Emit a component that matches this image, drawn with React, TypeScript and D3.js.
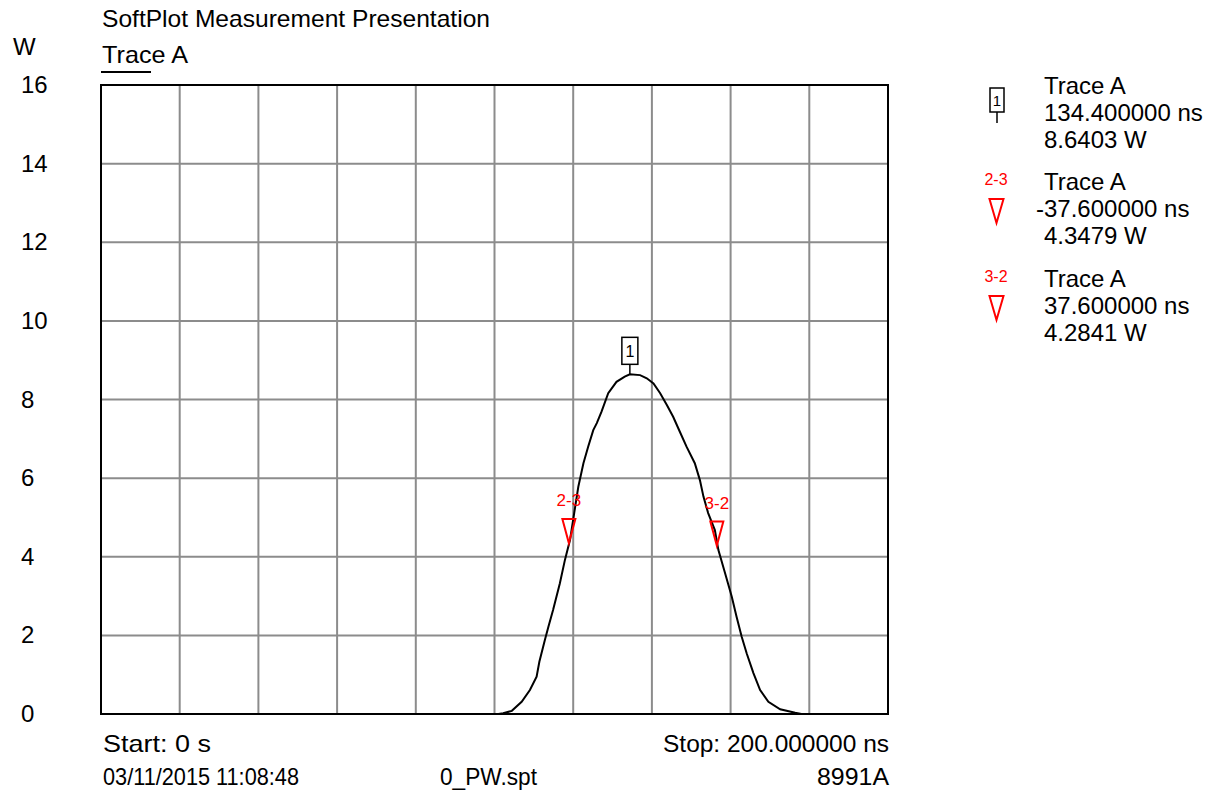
import React from 'react';
import * as d3 from 'd3';

// trace A samples (ns, W)
const timeNs = [0, 101, 102.2, 104.4, 106.9, 109.0, 110.7, 111.4, 112.8, 113.7, 114.9, 116.6, 117.9, 119.2, 120.5, 121.3, 122.6, 123.8, 125.1, 126.0, 127.2, 128.9, 131.0, 133.1, 134.4, 137.0, 138.7, 140.4, 142.1, 143.8, 145.4, 147.1, 148.8, 150.9, 152.2, 153.1, 154.3, 156.0, 156.9, 158.6, 160.3, 161.5, 162.8, 164.1, 165.8, 167.5, 169.6, 172.6, 176.4, 178, 200];
const powerW = [0, 0, 0.02, 0.08, 0.31, 0.61, 0.95, 1.33, 1.88, 2.22, 2.65, 3.32, 3.92, 4.43, 5.27, 5.78, 6.38, 6.8, 7.22, 7.4, 7.69, 8.16, 8.45, 8.58, 8.64, 8.62, 8.54, 8.41, 8.16, 7.86, 7.56, 7.18, 6.8, 6.38, 5.95, 5.53, 5.11, 4.68, 4.17, 3.58, 2.98, 2.48, 1.97, 1.54, 1.04, 0.61, 0.31, 0.12, 0.03, 0, 0];

const yTicks = [0, 2, 4, 6, 8, 10, 12, 14, 16];
const xTicks = [0, 20, 40, 60, 80, 100, 120, 140, 160, 180, 200];

// markers
const marker1 = {t: 134.4, w: 8.6403};
const deltaMarkers = [
  {label: '2-3', t: 118.9, w: 4.3479, dt: '-37.600000 ns'},
  {label: '3-2', t: 156.5, w: 4.2841, dt: '37.600000 ns'},
];

const font = '"Liberation Sans", Arial, sans-serif';
const gridColor = '#8c8c8c';
const fs = 24;

export default function App() {
  const x = d3.scaleLinear().domain([0, 200]).range([101, 888]);
  const y = d3.scaleLinear().domain([0, 16]).range([714, 85]);
  const pts: [number, number][] = timeNs.map((t, i) => [t, powerW[i]]);
  const traceLine = d3.line<[number, number]>()
    .x(d => x(d[0]))
    .y(d => y(d[1]));

  const tri = (cx: number, tipY: number, w: number, h: number) =>
    `M${cx - w / 2},${tipY - h} L${cx + w / 2},${tipY - h} L${cx},${tipY} Z`;

  const m1x = x(marker1.t), m1y = y(marker1.w);
  const fit = {lengthAdjust: 'spacingAndGlyphs'} as any;

  return (
    <svg width={1217} height={799} style={{position: 'absolute', left: 0, top: 0, background: '#fff'}} fontFamily={font}>
      <text x={102} y={27} fontSize={fs} textLength={388} {...fit}>SoftPlot Measurement Presentation</text>
      <text x={13} y={55} fontSize={fs}>W</text>
      <text x={102} y={63} fontSize={fs} textLength={86} {...fit}>Trace A</text>
      <line x1={101} x2={151} y1={72} y2={72} stroke="#000" strokeWidth={2} />

      {/* grid */}
      {xTicks.slice(1, -1).map(t => (
        <line key={'gx' + t} x1={x(t)} x2={x(t)} y1={y(16)} y2={y(0)} stroke={gridColor} strokeWidth={2} />
      ))}
      {yTicks.slice(1, -1).map(t => (
        <line key={'gy' + t} x1={x(0)} x2={x(200)} y1={y(t)} y2={y(t)} stroke={gridColor} strokeWidth={2} />
      ))}
      <rect x={x(0)} y={y(16)} width={x(200) - x(0)} height={y(0) - y(16)} fill="none" stroke="#000" strokeWidth={2} />

      {yTicks.map(t => (
        <text key={'yl' + t} x={21} y={y(t) + 8} fontSize={fs}>{t}</text>
      ))}

      <path d={traceLine(pts) || ''} fill="none" stroke="#000" strokeWidth={2} />

      {/* marker 1 */}
      <line x1={m1x} x2={m1x} y1={m1y - 10} y2={m1y} stroke="#000" strokeWidth={1.5} />
      <rect x={m1x - 8} y={m1y - 37} width={16} height={27} fill="#fff" stroke="#000" strokeWidth={1.5} />
      <text x={m1x} y={m1y - 17} fontSize={16} textAnchor="middle">1</text>

      {deltaMarkers.map(m => (
        <g key={m.label}>
          <path d={tri(x(m.t), y(m.w), 13, 24)} fill="none" stroke="red" strokeWidth={2} />
          <text x={x(m.t)} y={y(m.w) - 37} fontSize={17} fill="red" textAnchor="middle">{m.label}</text>
        </g>
      ))}

      {/* legend */}
      <rect x={990} y={88} width={14} height={24} fill="#fff" stroke="#000" strokeWidth={1.5} />
      <text x={997} y={106} fontSize={15} textAnchor="middle">1</text>
      <line x1={997} x2={997} y1={112} y2={123} stroke="#000" strokeWidth={1.5} />
      <text x={1044} y={94} fontSize={fs}>Trace A</text>
      <text x={1044} y={121} fontSize={fs}>134.400000 ns</text>
      <text x={1044} y={148} fontSize={fs}>8.6403 W</text>

      {deltaMarkers.map((m, i) => {
        const oy = 97 * i;
        return (
          <g key={'lg' + m.label}>
            <text x={996} y={185 + oy} fontSize={16} fill="red" textAnchor="middle">{m.label}</text>
            <path d={tri(996.5, 223 + oy, 14, 24)} fill="none" stroke="red" strokeWidth={2} />
            <text x={1044} y={190 + oy} fontSize={fs}>Trace A</text>
            <text x={i === 0 ? 1036 : 1044} y={217 + oy} fontSize={fs}>{m.dt}</text>
            <text x={1044} y={244 + oy} fontSize={fs}>{m.w.toFixed(4)} W</text>
          </g>
        );
      })}

      {/* footer */}
      <text x={103} y={752} fontSize={fs} textLength={108} {...fit}>Start: 0 s</text>
      <text x={663} y={752} fontSize={fs} textLength={226} {...fit}>Stop: 200.000000 ns</text>
      <text x={103} y={785} fontSize={fs} textLength={196} {...fit}>03/11/2015 11:08:48</text>
      <text x={440} y={785} fontSize={fs} textLength={97} {...fit}>0_PW.spt</text>
      <text x={817} y={785} fontSize={fs} textLength={72} {...fit}>8991A</text>
    </svg>
  );
}
